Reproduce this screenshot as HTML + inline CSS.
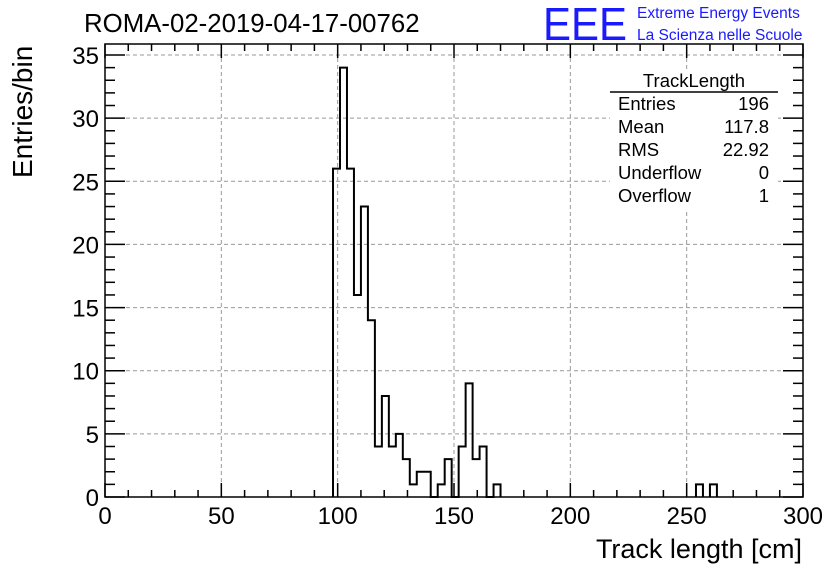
<!DOCTYPE html>
<html><head><meta charset="utf-8"><style>
body{margin:0;background:#fff;}
svg text{font-family:"Liberation Sans",sans-serif;}
</style></head><body>
<svg id="c" width="836" height="572" xmlns="http://www.w3.org/2000/svg">
<rect width="836" height="572" fill="#fff"/>
<text x="84" y="32" font-size="25.8">ROMA-02-2019-04-17-00762</text>
<text x="543" y="40" font-size="46" fill="#1a1aff" textLength="84" lengthAdjust="spacingAndGlyphs">EEE</text>
<text x="637" y="18" font-size="15.5" fill="#1a1aff">Extreme Energy Events</text>
<text x="637" y="40" font-size="15.5" fill="#1a1aff">La Scienza nelle Scuole</text>
<g id="grid"></g>
<g id="axes"></g>
<path id="hist" fill="none" stroke="#000" stroke-width="2"/>
<g font-size="18.5">
<rect x="610" y="70" width="168" height="140" fill="#fff"/>
<text x="694" y="87" text-anchor="middle">TrackLength</text>
<line x1="610" y1="92" x2="778" y2="92" stroke="#000" stroke-width="1.5"/>
<text x="618" y="110">Entries</text><text x="769" y="110" text-anchor="end">196</text>
<text x="618" y="133">Mean</text><text x="769" y="133" text-anchor="end">117.8</text>
<text x="618" y="156">RMS</text><text x="769" y="156" text-anchor="end">22.92</text>
<text x="618" y="179">Underflow</text><text x="769" y="179" text-anchor="end">0</text>
<text x="618" y="202">Overflow</text><text x="769" y="202" text-anchor="end">1</text>
</g>
<text x="802" y="558" font-size="27" text-anchor="end">Track length [cm]</text>
<text transform="translate(32,178) rotate(-90)" font-size="28" text-anchor="start">Entries/bin</text>
</svg>
<script>
const binStart = 98;
const binWidth = 3;
const counts = [26,34,26,16,23,14,4,8,4,5,3,1,2,2,0,1,3,0,4,9,3,4,0,1];
const tailBins = [254,260];
const tailCounts = [1,1];
const xTicks = [0,50,100,150,200,250,300];
const yTicks = [0,5,10,15,20,25,30,35];
const L=105,R=803,T=44,B=497;
const X=v=>L+(v-0)/(300-0)*(R-L);
const Y=v=>B-v/35*(497-55);
const ns="http://www.w3.org/2000/svg";
function mk(tag,attrs,parent){const e=document.createElementNS(ns,tag);for(const k in attrs)e.setAttribute(k,attrs[k]);parent.appendChild(e);return e;}
const grid=document.getElementById('grid'),axes=document.getElementById('axes');
xTicks.forEach(t=>{if(t>0&&t<300){const g=mk('line',{x1:X(t),x2:X(t),y1:T,y2:B,stroke:'#999','stroke-dasharray':'4,3'},grid);}});
yTicks.forEach(t=>{if(t>0){const g=mk('line',{x1:L,x2:R,y1:Y(t),y2:Y(t),stroke:'#999','stroke-dasharray':'4,3'},grid);}});
const frame=mk('rect',{x:L,y:T,width:R-L,height:B-T,fill:'none',stroke:'#000','stroke-width':1.5},axes);


for(let v=0;v<=300;v+=10){const len=v%50===0?14:7;
mk('line',{x1:X(v),x2:X(v),y1:B,y2:B-len,stroke:'#000','stroke-width':1.5},axes);
mk('line',{x1:X(v),x2:X(v),y1:T,y2:T+len,stroke:'#000','stroke-width':1.5},axes);}
for(let v=0;v<=35;v+=1){const len=v%5===0?20:10;
mk('line',{x1:L,x2:L+len,y1:Y(v),y2:Y(v),stroke:'#000','stroke-width':1.5},axes);
mk('line',{x1:R,x2:R-len,y1:Y(v),y2:Y(v),stroke:'#000','stroke-width':1.5},axes);}
xTicks.forEach(t=>{const e=mk('text',{x:X(t),y:524,'font-size':24,'text-anchor':'middle'},axes);e.textContent=t;});
yTicks.forEach(t=>{const e=mk('text',{x:99,y:Y(t)+9,'font-size':24,'text-anchor':'end'},axes);e.textContent=t;});
let d='M'+X(binStart)+','+Y(0);
counts.forEach((c,i)=>{const x0=X(binStart+i*binWidth),x1=X(binStart+(i+1)*binWidth);d+=' L'+x0+','+Y(c)+' L'+x1+','+Y(c);});
d+=' L'+X(binStart+counts.length*binWidth)+','+Y(0);
tailBins.forEach((b,i)=>{d+=' M'+X(b)+','+Y(0)+' L'+X(b)+','+Y(tailCounts[i])+' L'+X(b+binWidth)+','+Y(tailCounts[i])+' L'+X(b+binWidth)+','+Y(0);});
document.getElementById('hist').setAttribute('d',d);
</script>
</body></html>
